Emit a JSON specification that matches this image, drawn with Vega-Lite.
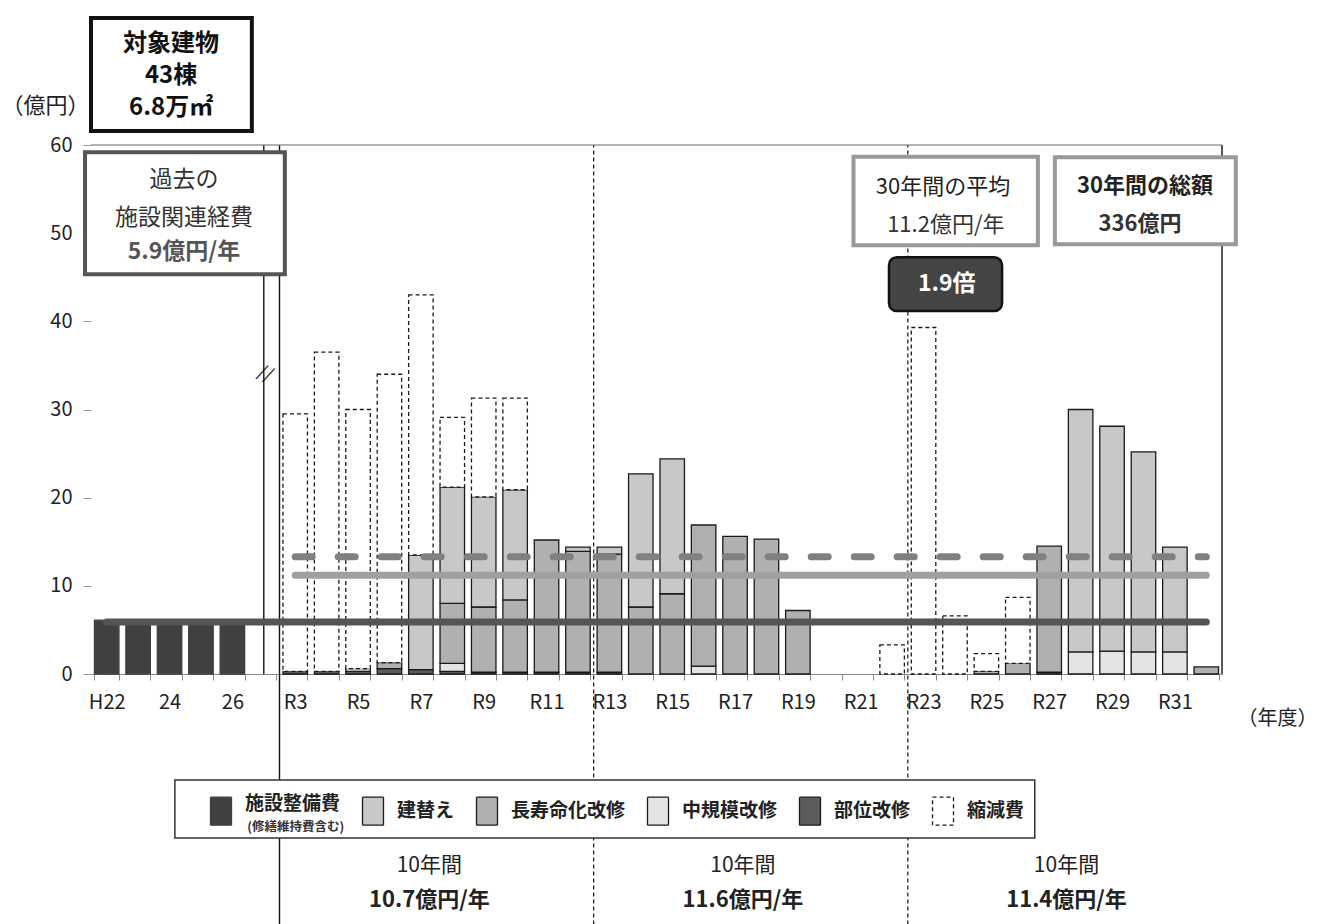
{
"$schema": "https://vega.github.io/schema/vega-lite/v6.json",
"width": 1131, "height": 529,
"autosize": {"type": "none"},
"padding": {"left": 91, "top": 145, "right": 98, "bottom": 250},
"background": "#ffffff",
"config": {"font": "Noto Sans CJK JP", "view": {"stroke": null}},
"datasets": {
"costs": [
{"year":"H22","type":"施設整備費","v":6.1},
{"year":"H23","type":"施設整備費","v":5.9},
{"year":"H24","type":"施設整備費","v":5.8},
{"year":"H25","type":"施設整備費","v":5.9},
{"year":"H26","type":"施設整備費","v":5.8},
{"year":"R3","type":"部位改修","v":0.3},{"year":"R3","type":"縮減費","v":29.2},
{"year":"R4","type":"部位改修","v":0.3},{"year":"R4","type":"縮減費","v":36.2},
{"year":"R5","type":"部位改修","v":0.3},{"year":"R5","type":"中規模改修","v":0.3},{"year":"R5","type":"縮減費","v":29.4},
{"year":"R6","type":"部位改修","v":0.6},{"year":"R6","type":"長寿命化改修","v":0.7},{"year":"R6","type":"縮減費","v":32.7},
{"year":"R7","type":"部位改修","v":0.5},{"year":"R7","type":"建替え","v":13.0},{"year":"R7","type":"縮減費","v":29.5},
{"year":"R8","type":"部位改修","v":0.3},{"year":"R8","type":"中規模改修","v":0.9},{"year":"R8","type":"長寿命化改修","v":6.8},{"year":"R8","type":"建替え","v":13.2},{"year":"R8","type":"縮減費","v":7.9},
{"year":"R9","type":"部位改修","v":0.2},{"year":"R9","type":"長寿命化改修","v":7.4},{"year":"R9","type":"建替え","v":12.5},{"year":"R9","type":"縮減費","v":11.2},
{"year":"R10","type":"部位改修","v":0.2},{"year":"R10","type":"長寿命化改修","v":8.2},{"year":"R10","type":"建替え","v":12.5},{"year":"R10","type":"縮減費","v":10.4},
{"year":"R11","type":"部位改修","v":0.2},{"year":"R11","type":"長寿命化改修","v":15.0},
{"year":"R12","type":"部位改修","v":0.2},{"year":"R12","type":"長寿命化改修","v":13.7},{"year":"R12","type":"建替え","v":0.5},
{"year":"R13","type":"部位改修","v":0.2},{"year":"R13","type":"長寿命化改修","v":13.4},{"year":"R13","type":"建替え","v":0.8},
{"year":"R14","type":"長寿命化改修","v":7.6},{"year":"R14","type":"建替え","v":15.1},
{"year":"R15","type":"長寿命化改修","v":9.1},{"year":"R15","type":"建替え","v":15.3},
{"year":"R16","type":"中規模改修","v":0.9},{"year":"R16","type":"長寿命化改修","v":16.0},
{"year":"R17","type":"長寿命化改修","v":15.6},
{"year":"R18","type":"長寿命化改修","v":15.3},
{"year":"R19","type":"長寿命化改修","v":7.2},
{"year":"R22","type":"縮減費","v":3.3},
{"year":"R23","type":"縮減費","v":39.3},
{"year":"R24","type":"縮減費","v":6.6},
{"year":"R25","type":"長寿命化改修","v":0.3},{"year":"R25","type":"縮減費","v":2.0},
{"year":"R26","type":"長寿命化改修","v":1.2},{"year":"R26","type":"縮減費","v":7.5},
{"year":"R27","type":"部位改修","v":0.2},{"year":"R27","type":"長寿命化改修","v":14.3},
{"year":"R28","type":"中規模改修","v":2.5},{"year":"R28","type":"建替え","v":27.5},
{"year":"R29","type":"中規模改修","v":2.6},{"year":"R29","type":"建替え","v":25.5},
{"year":"R30","type":"中規模改修","v":2.5},{"year":"R30","type":"建替え","v":22.7},
{"year":"R31","type":"中規模改修","v":2.5},{"year":"R31","type":"建替え","v":11.9},
{"year":"R32","type":"長寿命化改修","v":0.8}
],
"avgs": [
{"name":"過去の施設関連経費","from":"H22","to":"R32","v":5.9},
{"name":"30年間の平均","from":"R3","to":"R32","v":11.2},
{"name":"参考","from":"R3","to":"R32","v":13.3}
]
},
"resolve": {"scale": {"x": "independent", "y": "independent"}},
"layer": [
{
"data": {"values": [{}]},
"layer": [
{"mark": {"type":"rule","stroke":"#111","strokeWidth":1.4},
 "encoding": {"x":{"datum":5.5,"type":"quantitative","scale":{"domain":[0,36],"nice":false,"zero":false},"axis":null},
  "y":{"datum":0,"type":"quantitative","scale":{"domain":[0,60],"nice":false},"axis":null},"y2":{"datum":60}}},
{"mark": {"type":"rule","stroke":"#111","strokeWidth":1.4},
 "encoding": {"x":{"datum":6,"type":"quantitative","scale":{"domain":[0,36],"nice":false,"zero":false},"axis":null},
  "y":{"datum":-28.4,"type":"quantitative","scale":{"domain":[0,60],"nice":false},"axis":null},"y2":{"datum":60}}},
{"mark": {"type":"rule","stroke":"#111","strokeWidth":1.2,"strokeDash":[4,3]},
 "encoding": {"x":{"datum":16,"type":"quantitative","scale":{"domain":[0,36],"nice":false,"zero":false},"axis":null},
  "y":{"datum":-28.4,"type":"quantitative","scale":{"domain":[0,60],"nice":false},"axis":null},"y2":{"datum":60}}},
{"mark": {"type":"rule","stroke":"#111","strokeWidth":1.2,"strokeDash":[4,3]},
 "encoding": {"x":{"datum":26,"type":"quantitative","scale":{"domain":[0,36],"nice":false,"zero":false},"axis":null},
  "y":{"datum":-28.4,"type":"quantitative","scale":{"domain":[0,60],"nice":false},"axis":null},"y2":{"datum":60}}},
{"mark": {"type":"rule","stroke":"#111","strokeWidth":1.4},
 "encoding": {"x":{"datum":36,"type":"quantitative","scale":{"domain":[0,36],"nice":false,"zero":false},"axis":null},
  "y":{"datum":0,"type":"quantitative","scale":{"domain":[0,60],"nice":false},"axis":null},"y2":{"datum":60}}},
{"mark": {"type":"rule","stroke":"#666","strokeWidth":1.2},
 "encoding": {"x":{"datum":0,"type":"quantitative","scale":{"domain":[0,36],"nice":false,"zero":false},"axis":null},"x2":{"datum":36},
  "y":{"datum":60,"type":"quantitative","scale":{"domain":[0,60],"nice":false},"axis":null}}}
]
},
{
"data": {"name": "costs"},
"layer": [
{
"transform": [{"lookup": "type", "from": {"data": {"values": [{"type":"施設整備費","rank":0},{"type":"部位改修","rank":1},{"type":"中規模改修","rank":2},{"type":"長寿命化改修","rank":3},{"type":"建替え","rank":4},{"type":"縮減費","rank":5}]}, "key": "type", "fields": ["rank"]}}],
"mark": {"type":"bar","strokeWidth":1.3},
"encoding": {
"x": {"field":"year","type":"nominal","title":"（年度）",
 "scale":{"domain":["H22","H23","H24","H25","H26","…","R3","R4","R5","R6","R7","R8","R9","R10","R11","R12","R13","R14","R15","R16","R17","R18","R19","R20","R21","R22","R23","R24","R25","R26","R27","R28","R29","R30","R31","R32"],"paddingInner":0.22,"paddingOuter":0.11},
 "axis":{"labelExpr":"indexof(['H22','R3','R5','R7','R9','R11','R13','R15','R17','R19','R21','R23','R25','R27','R29','R31'], datum.value) >= 0 ? datum.value : (datum.value == 'H24' ? '24' : (datum.value == 'H26' ? '26' : ''))",
  "labelAngle":0,"labelFontSize":20,"labelColor":"#222","labelPadding":12,"labelOverlap":false,"labelFlush":false,
  "tickBand":"extent","tickSize":6,"tickColor":"#888","domainColor":"#888","domainWidth":1.2,"grid":false,
  "titleFontSize":20,"titleFontWeight":"normal","titleColor":"#222","titleX":1186,"titleY":44,"titleAngle":0,"titleAlign":"center","titleBaseline":"middle",
  "encode":{"labels":{"update":{"dy":{"signal":"datum.value === 'H22' ? 7 : 0"}}}}}},
"y": {"field":"v","type":"quantitative","stack":"zero","title":"（億円）",
 "scale":{"domain":[0,60],"nice":false},
 "axis":{"values":[0,10,20,30,40,50,60],"labelFontSize":20,"labelColor":"#222","labelPadding":11,"tickSize":8,"tickColor":"#999","domain":false,"gridColor":"#9a9a9a","gridWidth":1.2,
  "titleFontSize":22,"titleFontWeight":"normal","titleColor":"#222","titleAngle":0,"titleX":-46,"titleY":-40,"titleAlign":"center","titleBaseline":"middle"}},
"color": {"field":"type","type":"nominal","title":null,
 "scale":{"domain":["施設整備費","建替え","長寿命化改修","中規模改修","部位改修","縮減費"],"range":["#404040","#c8c8c8","#b0b0b0","#e4e4e4","#5c5c5c","#ffffff"]},
 "legend":{"orient":"none","legendX":115,"legendY":651,"direction":"horizontal","columns":6,"symbolType":"M-0.75,-1H0.75V1H-0.75Z","symbolSize":784,
  "labelFontSize":19,"labelFontWeight":"bold","labelColor":"#222","labelOffset":9,"columnPadding":17,"padding":0,"symbolStrokeWidth":1.3,
  "encode":{"labels":{"update":{"dy":{"signal":"datum.value === '施設整備費' ? -7 : 0"}}}}}},
"stroke": {"field":"type","type":"nominal","title":null,
 "scale":{"domain":["施設整備費","建替え","長寿命化改修","中規模改修","部位改修","縮減費"],"range":["#404040","#1a1a1a","#1a1a1a","#1a1a1a","#1a1a1a","#1a1a1a"]}},
"strokeDash": {"field":"type","type":"nominal","title":null,
 "scale":{"domain":["施設整備費","建替え","長寿命化改修","中規模改修","部位改修","縮減費"],"range":[[1,0],[1,0],[1,0],[1,0],[1,0],[4,3]]}},
"order": {"field":"rank","type":"quantitative"}
}
},
{"data":{"name":"avgs"},"transform":[{"filter":"datum.name === '過去の施設関連経費'"}],
 "mark":{"type":"rule","stroke":"#555555","strokeWidth":7,"strokeCap":"round"},
 "encoding":{"x":{"field":"from","type":"nominal","title":"（年度）"},"x2":{"field":"to"},"y":{"field":"v","type":"quantitative","title":"（億円）"}}},
{"data":{"name":"avgs"},"transform":[{"filter":"datum.name === '30年間の平均'"}],
 "mark":{"type":"rule","stroke":"#a0a0a0","strokeWidth":7,"strokeCap":"round"},
 "encoding":{"x":{"field":"from","type":"nominal","title":"（年度）"},"x2":{"field":"to"},"y":{"field":"v","type":"quantitative","title":"（億円）"}}},
{"data":{"name":"avgs"},"transform":[{"filter":"datum.name === '参考'"}],
 "mark":{"type":"rule","stroke":"#808080","strokeWidth":7,"strokeCap":"round","strokeDash":[17,26]},
 "encoding":{"x":{"field":"from","type":"nominal","title":"（年度）"},"x2":{"field":"to"},"y":{"field":"v","type":"quantitative","title":"（億円）"}}}
]
},
{
"data": {"values": [{}]},
"layer": [
{"mark":{"type":"rect","fill":"#ffffff","stroke":"#111","strokeWidth":4},
 "encoding":{"x":{"datum":0,"type":"quantitative","scale":{"domain":[0,36],"nice":false,"zero":false},"axis":null},"x2":{"datum":5.12},
  "y":{"datum":74.4,"type":"quantitative","scale":{"domain":[0,60],"nice":false},"axis":null},"y2":{"datum":61.6}}},
{"mark":{"type":"text","fontSize":24,"fontWeight":"bold","color":"#111","lineHeight":32,"align":"center","baseline":"middle","text":["対象建物","43棟","6.8万㎡"]},
 "encoding":{"x":{"datum":2.55,"type":"quantitative","scale":{"domain":[0,36],"nice":false,"zero":false},"axis":null},
  "y":{"datum":71.5,"type":"quantitative","scale":{"domain":[0,60],"nice":false},"axis":null}}},
{"mark":{"type":"rect","fill":"#ffffff","stroke":"#555","strokeWidth":4},
 "encoding":{"x":{"datum":-0.19,"type":"quantitative","scale":{"domain":[0,36],"nice":false,"zero":false},"axis":null},"x2":{"datum":6.17},
  "y":{"datum":59.18,"type":"quantitative","scale":{"domain":[0,60],"nice":false},"axis":null},"y2":{"datum":45.35}}},
{"mark":{"type":"text","fontSize":23,"color":"#333","lineHeight":38,"align":"center","baseline":"middle","text":["過去の","施設関連経費"]},
 "encoding":{"x":{"datum":2.96,"type":"quantitative","scale":{"domain":[0,36],"nice":false,"zero":false},"axis":null},
  "y":{"datum":56.0,"type":"quantitative","scale":{"domain":[0,60],"nice":false},"axis":null}}},
{"mark":{"type":"text","fontSize":23,"fontWeight":"bold","color":"#555","align":"center","baseline":"middle","text":"5.9億円/年"},
 "encoding":{"x":{"datum":2.96,"type":"quantitative","scale":{"domain":[0,36],"nice":false,"zero":false},"axis":null},
  "y":{"datum":47.85,"type":"quantitative","scale":{"domain":[0,60],"nice":false},"axis":null}}},
{"mark":{"type":"rect","fill":"#ffffff","stroke":"#999","strokeWidth":4},
 "encoding":{"x":{"datum":24.27,"type":"quantitative","scale":{"domain":[0,36],"nice":false,"zero":false},"axis":null},"x2":{"datum":30.14},
  "y":{"datum":58.67,"type":"quantitative","scale":{"domain":[0,60],"nice":false},"axis":null},"y2":{"datum":48.64}}},
{"mark":{"type":"text","fontSize":22,"color":"#222","align":"center","baseline":"middle","text":"30年間の平均"},
 "encoding":{"x":{"datum":27.12,"type":"quantitative","scale":{"domain":[0,36],"nice":false,"zero":false},"axis":null},
  "y":{"datum":55.27,"type":"quantitative","scale":{"domain":[0,60],"nice":false},"axis":null}}},
{"mark":{"type":"text","fontSize":22,"color":"#333","align":"center","baseline":"middle","text":"11.2億円/年"},
 "encoding":{"x":{"datum":27.21,"type":"quantitative","scale":{"domain":[0,36],"nice":false,"zero":false},"axis":null},
  "y":{"datum":50.96,"type":"quantitative","scale":{"domain":[0,60],"nice":false},"axis":null}}},
{"mark":{"type":"rect","fill":"#ffffff","stroke":"#999","strokeWidth":4},
 "encoding":{"x":{"datum":30.68,"type":"quantitative","scale":{"domain":[0,36],"nice":false,"zero":false},"axis":null},"x2":{"datum":36.44},
  "y":{"datum":58.62,"type":"quantitative","scale":{"domain":[0,60],"nice":false},"axis":null},"y2":{"datum":48.75}}},
{"mark":{"type":"text","fontSize":22,"fontWeight":"bold","color":"#222","align":"center","baseline":"middle","text":"30年間の総額"},
 "encoding":{"x":{"datum":33.55,"type":"quantitative","scale":{"domain":[0,36],"nice":false,"zero":false},"axis":null},
  "y":{"datum":55.33,"type":"quantitative","scale":{"domain":[0,60],"nice":false},"axis":null}}},
{"mark":{"type":"text","fontSize":22,"fontWeight":"bold","color":"#333","align":"center","baseline":"middle","text":"336億円"},
 "encoding":{"x":{"datum":33.39,"type":"quantitative","scale":{"domain":[0,36],"nice":false,"zero":false},"axis":null},
  "y":{"datum":51.02,"type":"quantitative","scale":{"domain":[0,60],"nice":false},"axis":null}}},
{"mark":{"type":"rect","fill":"#444444","stroke":"#111","strokeWidth":2.5,"cornerRadius":8},
 "encoding":{"x":{"datum":25.4,"type":"quantitative","scale":{"domain":[0,36],"nice":false,"zero":false},"axis":null},"x2":{"datum":29.0},
  "y":{"datum":47.28,"type":"quantitative","scale":{"domain":[0,60],"nice":false},"axis":null},"y2":{"datum":41.16}}},
{"mark":{"type":"text","fontSize":23,"fontWeight":"bold","color":"#ffffff","align":"center","baseline":"middle","text":"1.9倍"},
 "encoding":{"x":{"datum":27.24,"type":"quantitative","scale":{"domain":[0,36],"nice":false,"zero":false},"axis":null},
  "y":{"datum":44.22,"type":"quantitative","scale":{"domain":[0,60],"nice":false},"axis":null}}},
{"mark":{"type":"text","fontSize":18,"color":"#111","align":"center","baseline":"middle","angle":25,"text":"//"},
 "encoding":{"x":{"datum":5.54,"type":"quantitative","scale":{"domain":[0,36],"nice":false,"zero":false},"axis":null},
  "y":{"datum":34.0,"type":"quantitative","scale":{"domain":[0,60],"nice":false},"axis":null}}},
{"mark":{"type":"rect","fill":"#ffffff","stroke":"#333","strokeWidth":1.5},
 "encoding":{"x":{"datum":2.67,"type":"quantitative","scale":{"domain":[0,36],"nice":false,"zero":false},"axis":null},"x2":{"datum":30.04},
  "y":{"datum":-12.02,"type":"quantitative","scale":{"domain":[0,60],"nice":false},"axis":null},"y2":{"datum":-18.59}}},
{"mark":{"type":"text","fontSize":12.5,"fontWeight":"bold","color":"#333","align":"center","baseline":"middle","text":"(修繕維持費含む)"},
 "encoding":{"x":{"datum":6.52,"type":"quantitative","scale":{"domain":[0,36],"nice":false,"zero":false},"axis":null},
  "y":{"datum":-17.35,"type":"quantitative","scale":{"domain":[0,60],"nice":false},"axis":null}}},
{"mark":{"type":"text","fontSize":21,"color":"#222","align":"center","baseline":"middle","text":"10年間"},
 "encoding":{"x":{"datum":10.77,"type":"quantitative","scale":{"domain":[0,36],"nice":false,"zero":false},"axis":null},
  "y":{"datum":-21.8,"type":"quantitative","scale":{"domain":[0,60],"nice":false},"axis":null}}},
{"mark":{"type":"text","fontSize":22,"fontWeight":"bold","color":"#222","align":"center","baseline":"middle","text":"10.7億円/年"},
 "encoding":{"x":{"datum":10.77,"type":"quantitative","scale":{"domain":[0,36],"nice":false,"zero":false},"axis":null},
  "y":{"datum":-25.6,"type":"quantitative","scale":{"domain":[0,60],"nice":false},"axis":null}}},
{"mark":{"type":"text","fontSize":21,"color":"#222","align":"center","baseline":"middle","text":"10年間"},
 "encoding":{"x":{"datum":20.75,"type":"quantitative","scale":{"domain":[0,36],"nice":false,"zero":false},"axis":null},
  "y":{"datum":-21.8,"type":"quantitative","scale":{"domain":[0,60],"nice":false},"axis":null}}},
{"mark":{"type":"text","fontSize":22,"fontWeight":"bold","color":"#222","align":"center","baseline":"middle","text":"11.6億円/年"},
 "encoding":{"x":{"datum":20.75,"type":"quantitative","scale":{"domain":[0,36],"nice":false,"zero":false},"axis":null},
  "y":{"datum":-25.6,"type":"quantitative","scale":{"domain":[0,60],"nice":false},"axis":null}}},
{"mark":{"type":"text","fontSize":21,"color":"#222","align":"center","baseline":"middle","text":"10年間"},
 "encoding":{"x":{"datum":31.05,"type":"quantitative","scale":{"domain":[0,36],"nice":false,"zero":false},"axis":null},
  "y":{"datum":-21.8,"type":"quantitative","scale":{"domain":[0,60],"nice":false},"axis":null}}},
{"mark":{"type":"text","fontSize":22,"fontWeight":"bold","color":"#222","align":"center","baseline":"middle","text":"11.4億円/年"},
 "encoding":{"x":{"datum":31.05,"type":"quantitative","scale":{"domain":[0,36],"nice":false,"zero":false},"axis":null},
  "y":{"datum":-25.6,"type":"quantitative","scale":{"domain":[0,60],"nice":false},"axis":null}}}
]
}
]
}
